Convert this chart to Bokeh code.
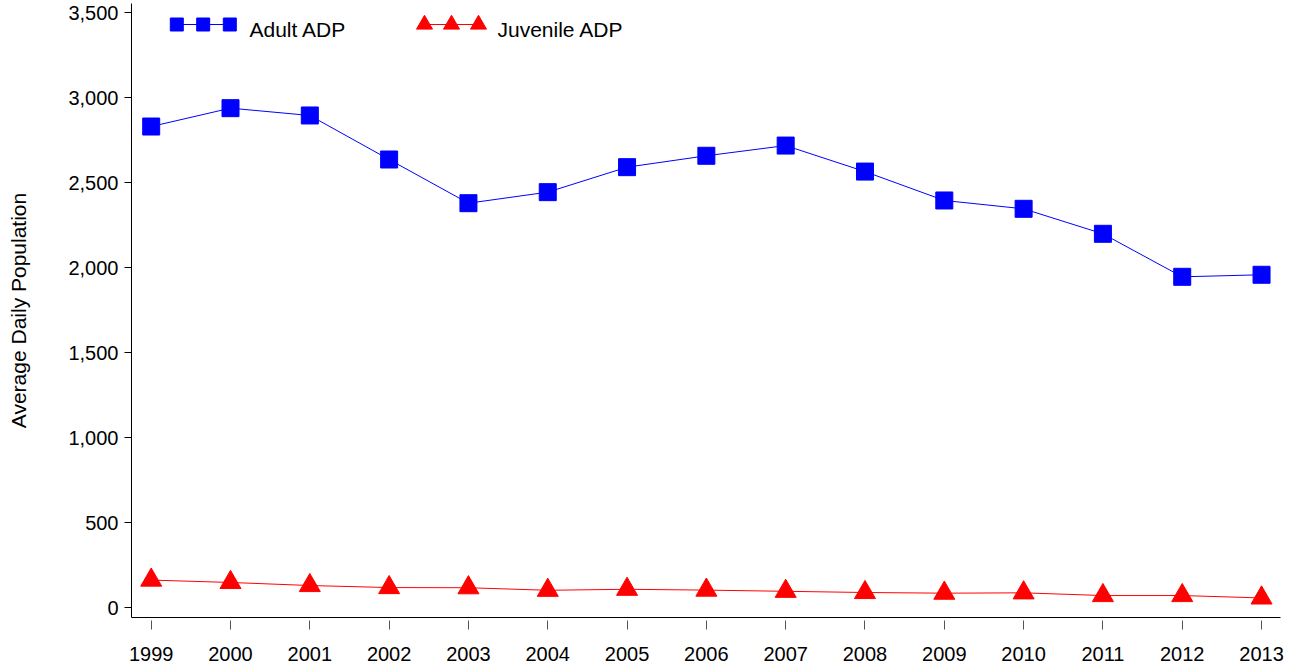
from bokeh.plotting import figure
from bokeh.models import Range1d, FixedTicker, NumeralTickFormatter, Label
from bokeh.embed import file_html
from bokeh.resources import INLINE

# ---- data ----
years = [1999, 2000, 2001, 2002, 2003, 2004, 2005, 2006, 2007, 2008, 2009, 2010, 2011, 2012, 2013]
adult_adp = [2831, 2939, 2896, 2637, 2380, 2445, 2592, 2659, 2719, 2566, 2396, 2347, 2200, 1947, 1959]
juvenile_adp = [163, 149, 131, 119, 118, 103, 109, 104, 97, 90, 86, 88, 72, 72, 58]
y_ticks = [0, 500, 1000, 1500, 2000, 2500, 3000, 3500]
x_tick_labels = [str(y) for y in years]
series_names = ["Adult ADP", "Juvenile ADP"]
y_title = "Average Daily Population"

BLUE = "#0000FF"
RED = "#FF0000"
FONT = "Liberation Sans"

# ---- geometry (pixels of the frame inside the figure) ----
FIG_W, FIG_H = 1292, 666
FRAME_L, FRAME_R, FRAME_T, FRAME_B = 131, 1280, 3, 617
PX_PER_YEAR = 79.31
PX_PER_UNIT = 0.17
X0 = 1999 - (150.7 - FRAME_L) / PX_PER_YEAR
X1 = X0 + (FRAME_R - FRAME_L) / PX_PER_YEAR
Y0 = -(FRAME_B - 607.3) / PX_PER_UNIT
Y1 = (607.3 - FRAME_T) / PX_PER_UNIT


def px_x(px):
    return X0 + (px - FRAME_L) / PX_PER_YEAR


def px_y(py):
    return Y0 + (FRAME_B - py) / PX_PER_UNIT


p = figure(width=FIG_W, height=FIG_H,
           x_range=Range1d(X0, X1), y_range=Range1d(Y0, Y1),
           output_backend="svg", toolbar_location=None,
           min_border_left=FRAME_L, min_border_right=FIG_W - FRAME_R,
           min_border_top=FRAME_T, min_border_bottom=FIG_H - FRAME_B)
p.title.visible = False
p.outline_line_color = None
p.xgrid.visible = False
p.ygrid.visible = False
p.background_fill_color = "white"
p.border_fill_color = "white"

# ---- series ----
p.line(years, adult_adp, line_color=BLUE, line_width=1)
p.scatter(years, adult_adp, marker="square", size=17, fill_color=BLUE, line_color=BLUE)
p.line(years, juvenile_adp, line_color=RED, line_width=1)
p.scatter(years, juvenile_adp, marker="triangle", size=21, fill_color=RED, line_color=RED)

# ---- axes ----
ya = p.yaxis[0]
ya.ticker = FixedTicker(ticks=y_ticks)
ya.formatter = NumeralTickFormatter(format="0,0")
ya.major_tick_out = 7
ya.major_tick_in = 0
ya.minor_tick_line_color = None
ya.axis_line_color = "black"
ya.major_tick_line_color = "black"
ya.major_label_standoff = 6
ya.major_label_text_font = FONT
ya.major_label_text_font_size = "20px"
ya.major_label_text_color = "black"
ya.axis_label = y_title
ya.axis_label_text_font = FONT
ya.axis_label_text_font_size = "21px"
ya.axis_label_text_font_style = "normal"
ya.axis_label_text_color = "black"
ya.axis_label_standoff = 35

xa = p.xaxis[0]
xa.ticker = FixedTicker(ticks=years)
xa.major_label_overrides = {y: s for y, s in zip(years, x_tick_labels)}
xa.major_tick_out = 12
xa.major_tick_in = -3
xa.minor_tick_line_color = None
xa.axis_line_color = "black"
xa.major_tick_line_color = "#555555"
xa.major_label_standoff = 17
xa.major_label_text_font = FONT
xa.major_label_text_font_size = "20px"
xa.major_label_text_color = "black"

# ---- legend (three markers on a line, as in the original) ----
leg_y = px_y(24)
adult_lx = [px_x(v) for v in (176.3, 202.7, 229.3)]
juv_lx = [px_x(v) for v in (424, 451, 478)]
p.line(adult_lx, [leg_y] * 3, line_color=BLUE, line_width=1)
p.scatter(adult_lx, [leg_y] * 3, marker="square", size=13, fill_color=BLUE, line_color=BLUE)
p.line(juv_lx, [leg_y] * 3, line_color=RED, line_width=1)
p.scatter(juv_lx, [leg_y] * 3, marker="triangle", size=16, fill_color=RED, line_color=RED)

for name, lx in zip(series_names, (249, 497)):
    p.add_layout(Label(x=px_x(lx), y=px_y(29), text=name,
                       text_font=FONT, text_font_size="21px",
                       text_baseline="middle", text_align="left",
                       text_color="black"))

open("out.html", "w").write(file_html(p, INLINE))
